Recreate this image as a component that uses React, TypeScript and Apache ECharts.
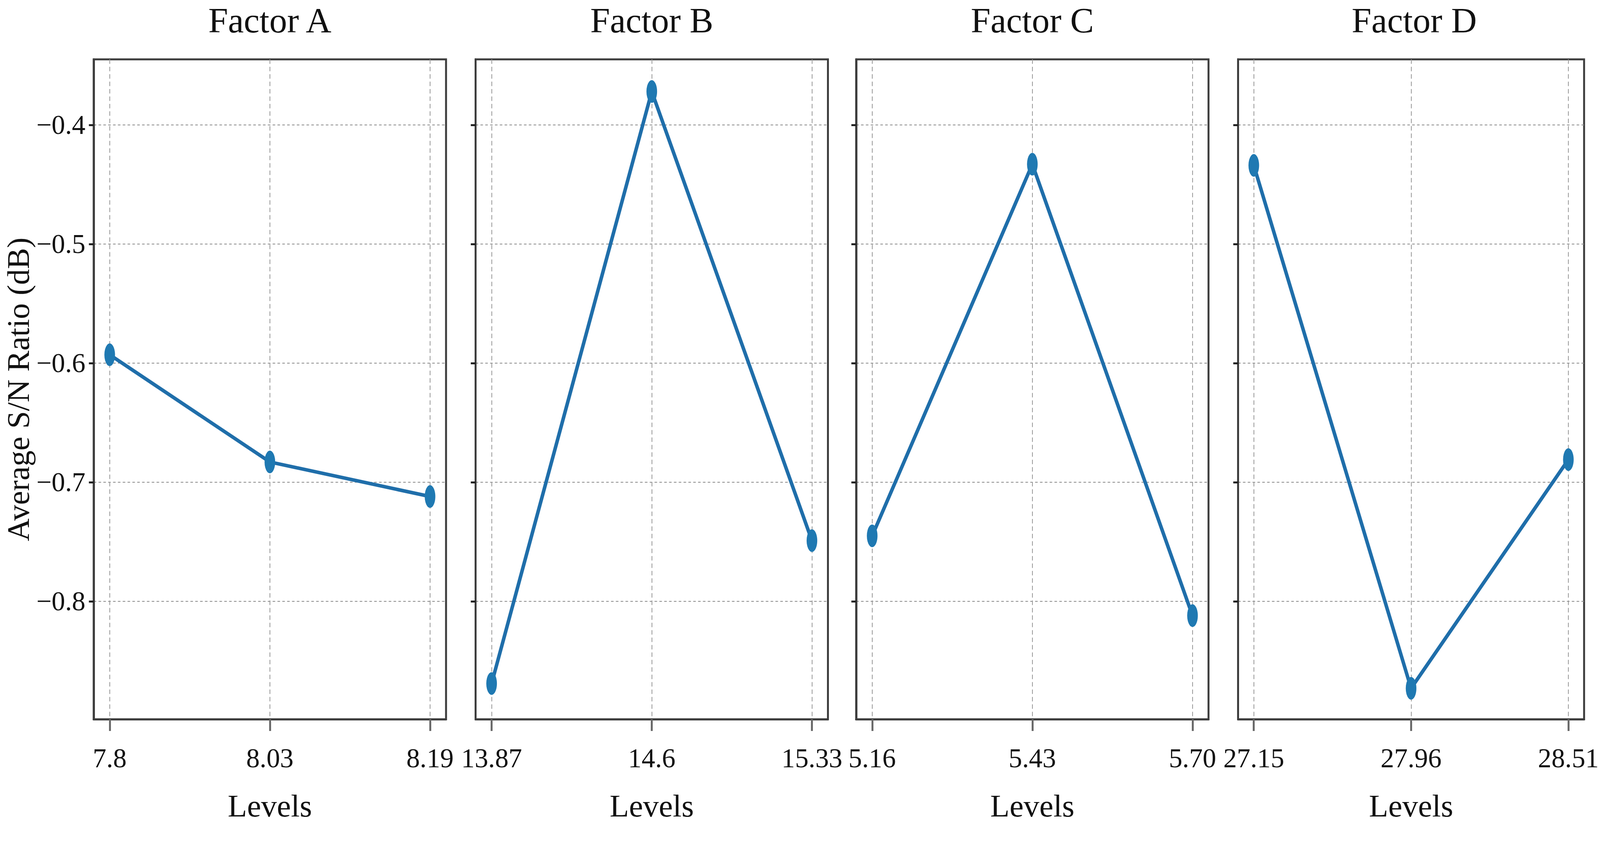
import React, { useEffect, useRef } from "react";
import * as echarts from "echarts";

// ---- data ----
const factorNames = ["Factor A", "Factor B", "Factor C", "Factor D"];
const levelsA = ["7.8", "8.03", "8.19"];
const levelsB = ["13.87", "14.6", "15.33"];
const levelsC = ["5.16", "5.43", "5.70"];
const levelsD = ["27.15", "27.96", "28.51"];
const snA = [-0.593, -0.683, -0.712];
const snB = [-0.869, -0.372, -0.749];
const snC = [-0.745, -0.433, -0.812];
const snD = [-0.434, -0.873, -0.681];
const yTicks = [-0.8, -0.7, -0.6, -0.5, -0.4];
const yLabel = "Average S/N Ratio (dB)";
const xLabel = "Levels";

const allLevels = [levelsA, levelsB, levelsC, levelsD];
const allSN = [snA, snB, snC, snD];

// ---- layout (in reference pixels, scaled to the viewport) ----
const W = 6012;
const H = 2164;
const panelLefts = [352, 1787, 3217, 4652];
const panelWidth = 1324;
const panelTop = 152;
const panelHeight = 1690;
const FONT = "'Liberation Serif', 'DejaVu Serif', serif";
const LINE_COLOR = "#1f6eaa";
const MARK_COLOR = "#1f79b2";

function fmtY(v: number) {
  const s = Math.abs(v).toFixed(1);
  return v < 0 ? "\u2212" + s : s;
}

export default function App() {
  const ref = useRef<HTMLDivElement>(null);
  useEffect(() => {
    if (!ref.current) return;
    const Sx = window.innerWidth / W;
    const Sy = window.innerHeight / H;
    const k = Math.sqrt(Sx * Sy);
    const px = (v: number) => v * Sx;
    const py = (v: number) => v * Sy;
    const pk = (v: number) => v * k;
    const chart = echarts.init(ref.current, undefined, { renderer: "svg" });
    const idx = [0, 1, 2];

    const titleFs = pk(110);
    const tickFs = pk(84);
    const nameFs = pk(98);
    const axisBottom = panelTop + panelHeight;

    const grid = panelLefts.map((l) => ({
      left: px(l),
      top: py(panelTop),
      width: px(panelWidth),
      height: py(panelHeight),
      show: true,
      borderColor: "#3d3d3d",
      borderWidth: pk(6),
      backgroundColor: "#ffffff",
    }));

    const title = panelLefts.map((l, i) => ({
      text: factorNames[i],
      left: px(l + panelWidth / 2),
      top: Math.max(1, py(54) - titleFs * 0.52),
      textAlign: "center",
      padding: 0,
      textStyle: { fontFamily: FONT, fontSize: titleFs, fontWeight: "normal", color: "#111" },
    }));

    const xAxis = panelLefts.map((_, i) => ({
      type: "value",
      gridIndex: i,
      min: -0.1,
      max: 2.1,
      name: xLabel,
      nameLocation: "middle",
      nameGap: py(2063 - axisBottom) - nameFs / 2,
      nameTextStyle: { fontFamily: FONT, fontSize: nameFs, color: "#111" },
      axisLine: { show: true, onZero: false, lineStyle: { color: "#3d3d3d", width: pk(6) } },
      axisTick: {
        show: true,
        customValues: idx,
        length: py(30),
        lineStyle: { color: "#6a6a6a", width: pk(6) },
      },
      axisLabel: {
        show: true,
        customValues: idx,
        margin: py(1942 - axisBottom) - tickFs / 2,
        fontFamily: FONT,
        fontSize: tickFs,
        color: "#111",
        formatter: (v: number) => allLevels[i][Math.round(v)] ?? "",
      },
      splitLine: {
        show: true,
        lineStyle: { color: "#9a9a9a", width: pk(2.5), type: [pk(14), pk(9)] },
      },
    }));

    const yAxis = panelLefts.map((l, i) => ({
      type: "value",
      gridIndex: i,
      min: -0.899,
      max: -0.345,
      name: i === 0 ? yLabel : "",
      nameLocation: "middle",
      nameGap: px(l - 69) - nameFs / 2,
      nameTextStyle: { fontFamily: FONT, fontSize: nameFs, color: "#111" },
      axisLine: { show: true, onZero: false, lineStyle: { color: "#3d3d3d", width: pk(6) } },
      axisTick: {
        show: true,
        customValues: yTicks,
        length: px(18),
        lineStyle: { color: "#222", width: pk(6) },
      },
      axisLabel: {
        show: i === 0,
        customValues: yTicks,
        margin: px(31),
        fontFamily: FONT,
        fontSize: tickFs,
        color: "#111",
        formatter: (v: number) => fmtY(v),
      },
      splitLine: {
        show: true,
        lineStyle: { color: "#8a8a8a", width: pk(2.5), type: [pk(8), pk(7)] },
      },
    }));

    const series = allSN.map((vals, i) => ({
      type: "line",
      xAxisIndex: i,
      yAxisIndex: i,
      data: vals.map((v, n) => [n, v]),
      symbol: "circle",
      symbolSize: [px(40), py(58)],
      showSymbol: true,
      lineStyle: { color: LINE_COLOR, width: pk(11) },
      itemStyle: { color: MARK_COLOR },
      z: 5,
    }));

    chart.setOption({
      animation: false,
      backgroundColor: "#ffffff",
      title,
      grid,
      xAxis,
      yAxis,
      series,
    } as any);
    return () => chart.dispose();
  }, []);
  return (
    <div
      ref={ref}
      style={{ position: "fixed", left: 0, top: 0, width: "100vw", height: "100vh", background: "#fff" }}
    />
  );
}
